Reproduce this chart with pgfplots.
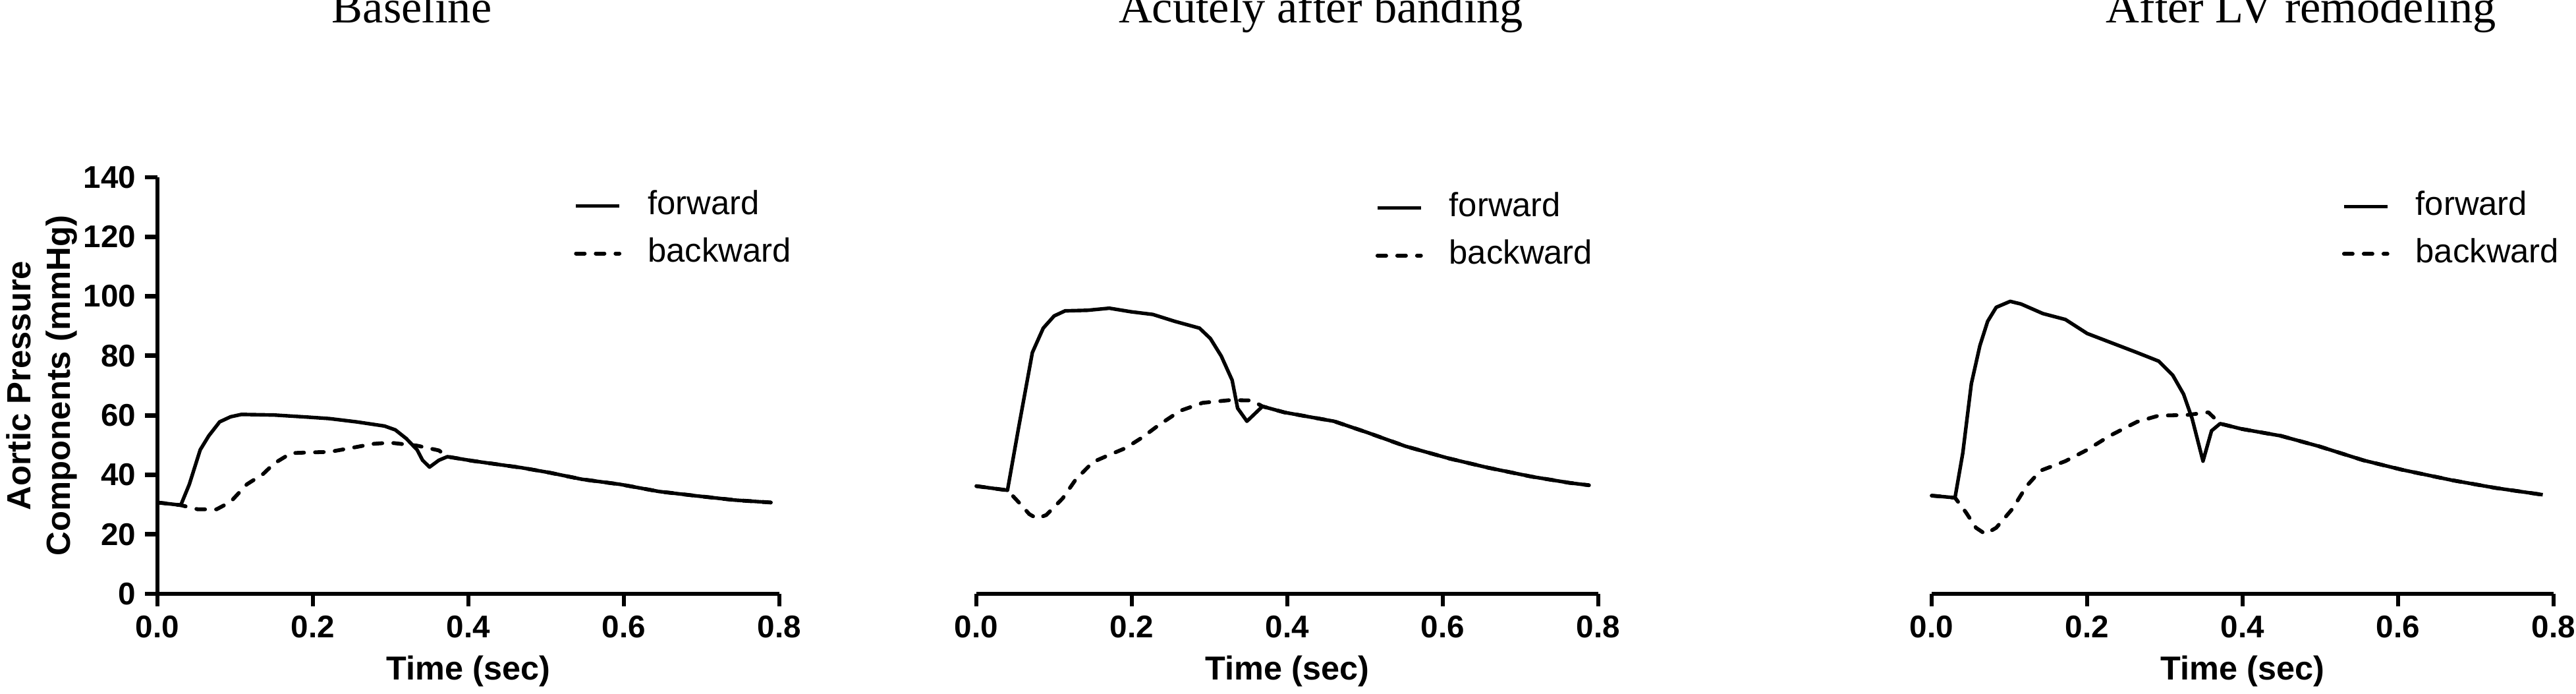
\documentclass[border=0pt]{standalone}
\usepackage{fontspec}
\setmainfont{Liberation Serif}
\newfontfamily\arial{Liberation Sans}
\usepackage{pgfplots}
\pgfplotsset{compat=1.18}

\pgfplotsset{
  panel/.style={
    scale only axis, width=236pt, height=158pt,
    xmin=0, xmax=0.8, ymin=0, ymax=140,
    enlargelimits=false,
    axis x line*=bottom,
    axis line style={-, line width=1.7pt, black},
    xtick={0,0.2,0.4,0.6,0.8},
    tick style={line width=1.7pt, black},
    tick align=outside,
    major tick length=4.7pt,
    /pgf/number format/assume math mode=true,
    xticklabel style={font=\arial\bfseries\fontsize{11.9}{14}\selectfont,
      /pgf/number format/.cd, fixed, fixed zerofill, precision=1},
    yticklabel style={font=\arial\bfseries\fontsize{11.9}{14}\selectfont},
    xlabel={Time (sec)},
    xlabel style={font=\arial\bfseries\fontsize{12.6}{15}\selectfont},
    title style={font=\fontsize{17.6}{21}\selectfont, anchor=base, yshift=-1pt},
    legend style={draw=none, fill=none, inner sep=0pt, anchor=west,
      font=\arial\fontsize{12.7}{15}\selectfont, row sep=6.2pt, column sep=10pt,
      nodes={inner sep=0pt, text height=9.2pt, text depth=2.6pt}},
    legend cell align=left,
    legend image code/.code={\draw[##1] (0pt,0pt) -- (16.5pt,0pt);},
    clip=false,
  },
  fwd/.style={black, line width=1.35pt, line join=round},
  bwd/.style={black, line width=1.45pt, line cap=round, line join=round, dash pattern=on 3.3pt off 4.2pt},
}

\begin{document}
\begin{tikzpicture}
\path[use as bounding box] (0,0) rectangle (977.5pt,263pt);

% ---------- Baseline ----------
\begin{axis}[panel, at={(59.75pt,37.75pt)}, anchor=south west,
  axis y line*=left,
  ytick={0,20,40,60,80,100,120,140},
  ylabel={Aortic Pressure\\Components (mmHg)},
  ylabel style={font=\arial\bfseries\fontsize{12.7}{15}\selectfont, align=center,
    at={(rel axis cs:-0.1864,0.5)}, anchor=center},
  title={Baseline}, title style={at={(rel axis cs:0.409,1.340)}},
  legend style={at={(rel axis cs:0.669,0.874)}},
]
\addplot[fwd] coordinates {
(0,30.7) (0.030,29.8) (0.041,36.8) (0.055,48.4) (0.066,53.1) (0.080,57.8)
(0.094,59.5) (0.108,60.3) (0.150,60.1) (0.193,59.4) (0.221,58.9) (0.256,57.8)
(0.292,56.4) (0.306,55.1) (0.320,52.2) (0.334,48.4) (0.341,44.9) (0.350,42.6)
(0.362,44.9) (0.373,46.1) (0.405,44.7) (0.468,42.4) (0.503,40.8) (0.546,38.5)
(0.595,36.8) (0.645,34.4) (0.694,32.9) (0.743,31.5) (0.789,30.7)};
\addlegendentry{forward}
\addplot[bwd] coordinates {
(0,30.7) (0.030,29.8) (0.052,28.4) (0.076,28.4) (0.094,30.9) (0.115,36.8)
(0.136,40.3) (0.150,43.8) (0.172,47.3) (0.193,47.5) (0.221,47.7) (0.249,49.0)
(0.277,50.4) (0.299,50.8) (0.313,50.4) (0.334,49.8) (0.362,48.2) (0.373,46.1)
(0.405,44.7) (0.468,42.4) (0.503,40.8) (0.546,38.5)
(0.595,36.8) (0.645,34.4) (0.694,32.9) (0.743,31.5) (0.789,30.7)};
\addlegendentry{backward}
\end{axis}

% ---------- Acutely after banding ----------
\begin{axis}[panel, at={(370.5pt,37.75pt)}, anchor=south west,
  axis y line=none, ytick=\empty,
  title={Acutely after banding}, title style={at={(rel axis cs:0.554,1.340)}},
  legend style={at={(rel axis cs:0.641,0.869)}},
]
\addplot[fwd] coordinates {
(0,36.2) (0.040,34.8) (0.054,55.4) (0.072,81.1) (0.086,89.3) (0.100,93.4)
(0.114,95.1) (0.143,95.3) (0.171,96.0) (0.199,94.8) (0.227,93.9) (0.255,91.6)
(0.287,89.3) (0.301,85.8) (0.315,79.9) (0.329,71.8) (0.336,62.4) (0.348,58.0)
(0.368,63.0) (0.396,61.0) (0.432,59.3) (0.460,58.0) (0.502,54.3) (0.552,49.6)
(0.608,45.5) (0.658,42.4) (0.714,39.4) (0.763,37.3) (0.788,36.5)};
\addlegendentry{forward}
\addplot[bwd] coordinates {
(0,36.2) (0.040,34.8) (0.054,30.9) (0.068,26.8) (0.078,25.3) (0.090,26.5)
(0.111,32.1) (0.128,38.5) (0.150,44.3) (0.171,46.7) (0.192,49.0) (0.213,52.5)
(0.234,56.6) (0.262,61.5) (0.291,64.2) (0.326,65.1) (0.354,65.0) (0.368,63.0)
(0.396,61.0) (0.432,59.3) (0.460,58.0) (0.502,54.3) (0.552,49.6)
(0.608,45.5) (0.658,42.4) (0.714,39.4) (0.763,37.3) (0.788,36.5)};
\addlegendentry{backward}
\end{axis}

% ---------- After LV remodeling ----------
\begin{axis}[panel, at={(733pt,37.75pt)}, anchor=south west,
  axis y line=none, ytick=\empty,
  title={After LV remodeling}, title style={at={(rel axis cs:0.594,1.340)}},
  legend style={at={(rel axis cs:0.659,0.873)}},
]
\addplot[fwd] coordinates {
(0,33.0) (0.030,32.3) (0.040,47.3) (0.051,70.6) (0.062,83.4) (0.072,91.6)
(0.083,96.3) (0.101,98.3) (0.115,97.4) (0.143,94.2) (0.172,92.2) (0.200,87.5)
(0.229,84.6) (0.264,81.1) (0.292,78.2) (0.310,73.5) (0.324,67.1) (0.335,58.9)
(0.349,44.6) (0.360,54.8) (0.371,57.2) (0.399,55.4) (0.449,53.1) (0.498,49.6)
(0.555,44.9) (0.605,41.7) (0.669,38.2) (0.725,35.6) (0.786,33.3)};
\addlegendentry{forward}
\addplot[bwd] coordinates {
(0,33.0) (0.030,32.3) (0.044,27.4) (0.057,22.2) (0.069,20.1) (0.083,22.2)
(0.104,28.6) (0.122,36.2) (0.140,41.4) (0.172,44.6) (0.200,48.4) (0.229,53.1)
(0.264,57.8) (0.292,59.9) (0.328,60.1) (0.356,61.0) (0.371,57.2) (0.399,55.4)
(0.449,53.1) (0.498,49.6)
(0.555,44.9) (0.605,41.7) (0.669,38.2) (0.725,35.6) (0.786,33.3)};
\addlegendentry{backward}
\end{axis}
\end{tikzpicture}
\end{document}
